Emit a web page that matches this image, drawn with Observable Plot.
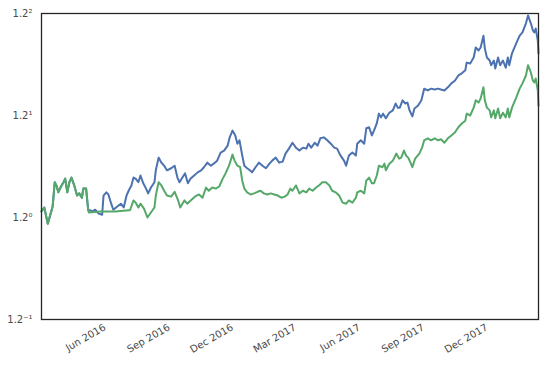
<!DOCTYPE html>
<html><head><meta charset="utf-8">
<script src="https://cdn.jsdelivr.net/npm/d3@7"></script>
<script src="https://cdn.jsdelivr.net/npm/@observablehq/plot@0.6"></script>
<style>body{margin:0;background:#fff}</style>
</head><body><div id="chart"></div>
<script>
// Shared start (both series overlap)
const commonDates = ["2016-03-02","2016-03-06","2016-03-11","2016-03-14","2016-03-18","2016-03-21","2016-03-24","2016-03-26","2016-03-30","2016-04-03","2016-04-05","2016-04-08","2016-04-11","2016-04-14","2016-04-18","2016-04-22","2016-04-25","2016-04-29","2016-05-01","2016-05-05","2016-05-08"];
const commonValues = [1.011,1.018,0.989,1.002,1.020,1.065,1.057,1.046,1.057,1.066,1.072,1.046,1.065,1.074,1.059,1.040,1.044,1.036,1.053,1.053,1.013];

// Blue series (after split)
const blueDates = ["2016-05-11","2016-05-14","2016-05-18","2016-05-23","2016-05-28","2016-05-30","2016-06-03","2016-06-06","2016-06-10","2016-06-13","2016-06-17","2016-06-21","2016-06-24","2016-06-28","2016-07-02","2016-07-05","2016-07-09","2016-07-12","2016-07-15","2016-07-19","2016-07-22","2016-07-26","2016-07-30","2016-08-02","2016-08-06","2016-08-11","2016-08-13","2016-08-17","2016-08-21","2016-08-25","2016-08-29","2016-09-04","2016-09-09","2016-09-13","2016-09-16","2016-09-21","2016-09-24","2016-09-28","2016-10-02","2016-10-07","2016-10-12","2016-10-17","2016-10-21","2016-10-26","2016-10-31","2016-11-04","2016-11-09","2016-11-14","2016-11-19","2016-11-24","2016-11-27","2016-12-01","2016-12-05","2016-12-08","2016-12-11","2016-12-15","2016-12-18","2016-12-22","2016-12-26","2016-12-29","2017-01-03","2017-01-08","2017-01-13","2017-01-18","2017-01-23","2017-01-27","2017-02-01","2017-02-06","2017-02-11","2017-02-15","2017-02-20","2017-02-25","2017-03-02","2017-03-07","2017-03-12","2017-03-17","2017-03-20","2017-03-24","2017-03-29","2017-04-02","2017-04-06","2017-04-11","2017-04-16","2017-04-21","2017-04-26","2017-04-30","2017-05-05","2017-05-10","2017-05-13","2017-05-17","2017-05-22","2017-05-27","2017-05-29","2017-06-03","2017-06-08","2017-06-11","2017-06-15","2017-06-19","2017-06-22","2017-06-26","2017-06-29","2017-07-02","2017-07-05","2017-07-09","2017-07-14","2017-07-19","2017-07-23","2017-07-26","2017-07-29","2017-08-02","2017-08-06","2017-08-09","2017-08-12","2017-08-16","2017-08-19","2017-08-24","2017-08-29","2017-09-02","2017-09-07","2017-09-12","2017-09-17","2017-09-22","2017-09-26","2017-10-01","2017-10-06","2017-10-11","2017-10-16","2017-10-21","2017-10-26","2017-10-31","2017-11-02","2017-11-07","2017-11-12","2017-11-15","2017-11-19","2017-11-22","2017-11-26","2017-11-28","2017-12-01","2017-12-05","2017-12-07","2017-12-11","2017-12-13","2017-12-17","2017-12-20","2017-12-24","2017-12-28","2017-12-31","2018-01-02","2018-01-06","2018-01-12","2018-01-17","2018-01-21","2018-01-26","2018-01-29","2018-02-02","2018-02-05","2018-02-07","2018-02-09","2018-02-12","2018-02-13"];
const blueValues = [1.013,1.011,1.014,1.007,1.005,1.040,1.046,1.042,1.025,1.014,1.018,1.022,1.025,1.018,1.040,1.049,1.059,1.074,1.072,1.065,1.078,1.063,1.053,1.044,1.055,1.065,1.088,1.113,1.103,1.097,1.088,1.092,1.097,1.074,1.065,1.076,1.082,1.063,1.072,1.078,1.084,1.088,1.094,1.103,1.097,1.101,1.107,1.123,1.127,1.137,1.154,1.168,1.158,1.141,1.148,1.117,1.097,1.092,1.088,1.084,1.094,1.103,1.097,1.092,1.101,1.107,1.113,1.103,1.105,1.121,1.131,1.143,1.133,1.127,1.133,1.131,1.141,1.133,1.143,1.137,1.152,1.154,1.148,1.141,1.133,1.131,1.117,1.107,1.097,1.117,1.123,1.117,1.141,1.148,1.141,1.173,1.175,1.158,1.168,1.183,1.204,1.196,1.204,1.194,1.206,1.211,1.226,1.217,1.217,1.233,1.226,1.228,1.211,1.198,1.215,1.221,1.233,1.259,1.255,1.259,1.257,1.259,1.257,1.255,1.262,1.271,1.277,1.289,1.294,1.301,1.319,1.317,1.331,1.355,1.348,1.355,1.384,1.353,1.331,1.324,1.313,1.324,1.305,1.331,1.313,1.324,1.307,1.331,1.313,1.341,1.365,1.384,1.392,1.415,1.435,1.415,1.397,1.392,1.402,1.372,1.341];

// Green series (after split)
const greenDates = ["2016-05-09","2016-05-26","2016-06-16","2016-07-05","2016-07-07","2016-07-12","2016-07-15","2016-07-19","2016-07-22","2016-07-27","2016-08-01","2016-08-06","2016-08-11","2016-08-13","2016-08-17","2016-08-21","2016-08-25","2016-08-29","2016-09-04","2016-09-09","2016-09-14","2016-09-17","2016-09-23","2016-09-27","2016-10-02","2016-10-08","2016-10-14","2016-10-19","2016-10-24","2016-10-28","2016-11-02","2016-11-07","2016-11-12","2016-11-17","2016-11-21","2016-11-26","2016-12-01","2016-12-04","2016-12-08","2016-12-12","2016-12-15","2016-12-18","2016-12-22","2016-12-27","2017-01-01","2017-01-06","2017-01-10","2017-01-15","2017-01-20","2017-01-25","2017-01-30","2017-02-04","2017-02-09","2017-02-14","2017-02-18","2017-02-22","2017-02-25","2017-03-02","2017-03-07","2017-03-12","2017-03-17","2017-03-21","2017-03-26","2017-03-31","2017-04-04","2017-04-09","2017-04-14","2017-04-19","2017-04-23","2017-04-28","2017-05-03","2017-05-08","2017-05-13","2017-05-17","2017-05-22","2017-05-27","2017-05-29","2017-06-03","2017-06-08","2017-06-11","2017-06-15","2017-06-19","2017-06-22","2017-06-26","2017-06-29","2017-07-04","2017-07-07","2017-07-09","2017-07-14","2017-07-19","2017-07-24","2017-07-28","2017-07-31","2017-08-04","2017-08-07","2017-08-10","2017-08-14","2017-08-16","2017-08-20","2017-08-26","2017-08-30","2017-09-02","2017-09-07","2017-09-12","2017-09-17","2017-09-22","2017-09-26","2017-10-01","2017-10-06","2017-10-11","2017-10-16","2017-10-21","2017-10-26","2017-10-31","2017-11-02","2017-11-07","2017-11-12","2017-11-15","2017-11-19","2017-11-22","2017-11-26","2017-11-28","2017-12-01","2017-12-05","2017-12-07","2017-12-11","2017-12-13","2017-12-17","2017-12-20","2017-12-24","2017-12-28","2017-12-31","2018-01-02","2018-01-06","2018-01-12","2018-01-17","2018-01-21","2018-01-26","2018-01-29","2018-02-02","2018-02-05","2018-02-07","2018-02-09","2018-02-12","2018-02-13"];
const greenValues = [1.009,1.011,1.011,1.013,1.013,1.031,1.027,1.018,1.025,1.016,1.000,1.009,1.018,1.040,1.065,1.059,1.049,1.040,1.038,1.047,1.031,1.018,1.031,1.025,1.031,1.038,1.042,1.036,1.055,1.049,1.055,1.053,1.057,1.072,1.082,1.097,1.119,1.107,1.097,1.094,1.068,1.053,1.046,1.042,1.044,1.047,1.049,1.044,1.042,1.044,1.042,1.040,1.036,1.038,1.042,1.053,1.049,1.059,1.044,1.049,1.046,1.053,1.049,1.055,1.059,1.065,1.065,1.059,1.049,1.046,1.040,1.027,1.025,1.031,1.027,1.036,1.046,1.049,1.044,1.068,1.074,1.063,1.063,1.078,1.097,1.094,1.101,1.088,1.101,1.107,1.121,1.111,1.113,1.127,1.117,1.113,1.101,1.094,1.111,1.121,1.133,1.148,1.152,1.148,1.152,1.148,1.150,1.143,1.152,1.158,1.164,1.175,1.183,1.189,1.204,1.200,1.217,1.233,1.228,1.237,1.262,1.233,1.217,1.211,1.196,1.211,1.194,1.215,1.194,1.206,1.196,1.215,1.196,1.217,1.239,1.259,1.271,1.289,1.313,1.296,1.277,1.273,1.282,1.255,1.221];

const xDomain = ["2016-03-02", "2018-02-13"];
const xTickDates = ["2016-06-01","2016-09-01","2016-12-01","2017-03-01","2017-06-01","2017-09-01","2017-12-01"];
const yBase = 1.2;
const yTickExponents = [-1, 0, 1, 2];

const parse = d3.utcParse("%Y-%m-%d");
const series = (name, dates, values) => dates.map((d, i) => ({series: name, date: parse(d), value: values[i]}));
const blue = series("blue", commonDates.concat(blueDates), commonValues.concat(blueValues));
const green = series("green", commonDates.concat(greenDates), commonValues.concat(greenValues));

const supMap = {"-": "\u207B", "0": "\u2070", "1": "\u00B9", "2": "\u00B2", "3": "\u00B3"};
const supify = (n) => String(n).split("").map(c => supMap[c]).join("");

const chart = Plot.plot({
  width: 556,
  height: 365,
  marginLeft: 41,
  marginRight: 18,
  marginTop: 13,
  marginBottom: 46,
  style: {fontFamily: "DejaVu Sans", fontSize: "10px", color: "#4a4a4a", background: "#fff"},
  x: {type: "utc", domain: xDomain.map(parse)},
  y: {type: "log", base: yBase, domain: [Math.pow(yBase, yTickExponents[0]), Math.pow(yBase, yTickExponents[yTickExponents.length - 1])]},
  marks: [
    Plot.axisX({ticks: xTickDates.map(parse), tickFormat: d3.utcFormat("%b %Y"), tickRotate: -30, tickSize: 0, tickPadding: 7, label: null}),
    Plot.axisY({ticks: yTickExponents.map(e => Math.pow(yBase, e)), tickFormat: d => "1.2" + supify(Math.round(Math.log(d) / Math.log(yBase))), tickSize: 0, tickPadding: 9, label: null}),
    Plot.lineY(blue, {x: "date", y: "value", stroke: "#4C72B0", strokeWidth: 2}),
    Plot.lineY(green, {x: "date", y: "value", stroke: "#55A868", strokeWidth: 2}),
    Plot.frame({stroke: "#262626", strokeWidth: 1.3})
  ]
});
document.getElementById("chart").append(chart);
</script>
</body></html>
